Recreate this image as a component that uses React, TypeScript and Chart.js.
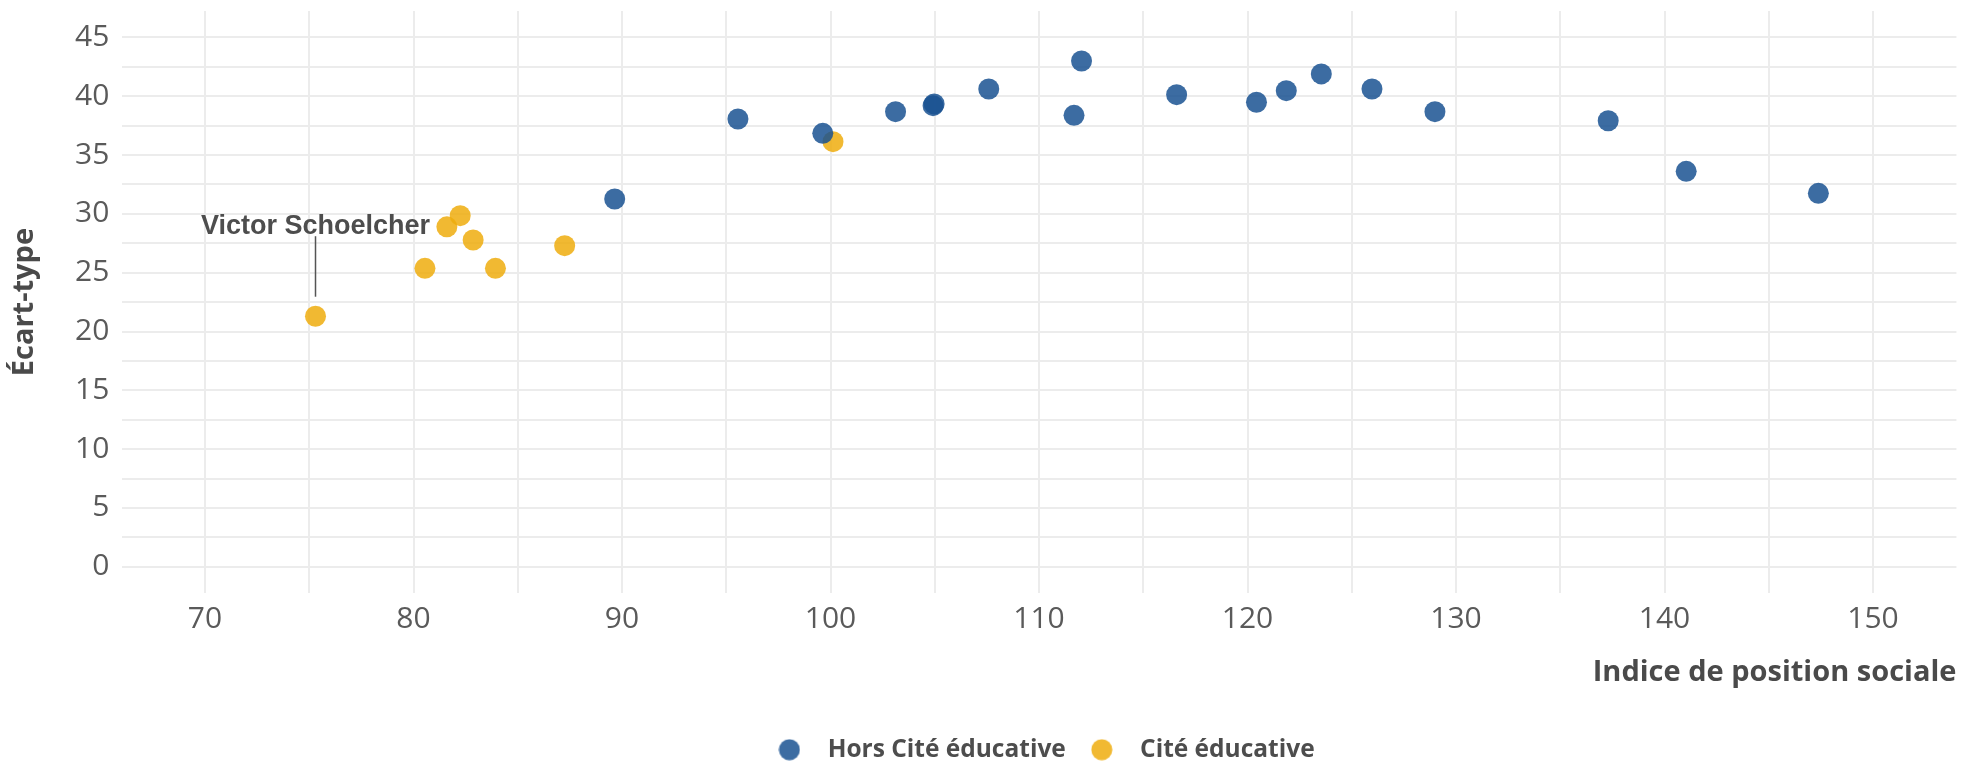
import React, { useEffect, useRef } from 'react';
import { Chart, registerables } from 'chart.js';

Chart.register(...registerables);

// ---- Data ----
const seriesNames = ['Hors Cité éducative', 'Cité éducative'];
const horsX = [89.65, 95.56, 99.63, 103.12, 104.92, 104.97, 107.59, 111.68, 112.04, 116.6, 120.43, 121.86, 123.54, 125.97, 128.99, 137.3, 141.04, 147.38];
const horsY = [31.27, 38.07, 36.85, 38.69, 39.2, 39.35, 40.62, 38.38, 43.0, 40.14, 39.49, 40.48, 41.9, 40.62, 38.69, 37.92, 33.62, 31.75];
const citeX = [75.3, 80.55, 81.6, 82.24, 82.86, 83.93, 87.25, 100.12];
const citeY = [21.3, 25.37, 28.9, 29.85, 27.78, 25.37, 27.3, 36.14];

const xGridValues = [70, 75, 80, 85, 90, 95, 100, 105, 110, 115, 120, 125, 130, 135, 140, 145, 150];
const xLabelValues = [70, 80, 90, 100, 110, 120, 130, 140, 150];
const yGridValues = [0, 2.5, 5, 7.5, 10, 12.5, 15, 17.5, 20, 22.5, 25, 27.5, 30, 32.5, 35, 37.5, 40, 42.5, 45];
const yLabelValues = [0, 5, 10, 15, 20, 25, 30, 35, 40, 45];
const xTitle = 'Indice de position sociale';
const yTitle = 'Écart-type';

const annotationText = 'Victor Schoelcher';
const annotationSeries = 1;
const annotationPoint = 0;

// ---- Styles ----
const blue = 'rgba(26, 82, 146, 0.85)';
const yellow = 'rgba(238, 173, 14, 0.85)';
const seriesColors = [blue, yellow];
const gridColor = '#ececec';

function makeDot(color: string): HTMLCanvasElement {
  const c = document.createElement('canvas');
  c.width = 22;
  c.height = 22;
  const g = c.getContext('2d')!;
  g.fillStyle = color;
  g.beginPath();
  g.arc(11, 11, 10.5, 0, Math.PI * 2);
  g.fill();
  return c;
}

const annotationPlugin = {
  id: 'pointAnnotation',
  afterDatasetsDraw(chart: any) {
    const meta = chart.getDatasetMeta(annotationSeries);
    const el = meta && meta.data[annotationPoint];
    if (!el) return;
    const { x, y } = el.getProps(['x', 'y'], true);
    const ctx = chart.ctx as CanvasRenderingContext2D;
    ctx.save();
    ctx.strokeStyle = '#555555';
    ctx.lineWidth = 1.5;
    ctx.beginPath();
    ctx.moveTo(x, y - 19.5);
    ctx.lineTo(x, y - 80);
    ctx.stroke();
    ctx.font = 'bold 27px "Liberation Sans", Arial, sans-serif';
    ctx.fillStyle = '#4d4d4d';
    ctx.textAlign = 'center';
    ctx.textBaseline = 'alphabetic';
    ctx.fillText(annotationText, x, y - 82);
    ctx.restore();
  },
};

export default function App() {
  const ref = useRef<HTMLCanvasElement>(null);

  useEffect(() => {
    if (!ref.current) return;
    const dots = seriesColors.map(makeDot);
    const chart = new Chart(ref.current, {
      type: 'scatter',
      data: {
        datasets: [
          {
            label: seriesNames[0],
            data: horsX.map((x, i) => ({ x, y: horsY[i] })),
            backgroundColor: blue,
            borderWidth: 0,
            pointRadius: 10.5,
            pointHoverRadius: 10.5,
          },
          {
            label: seriesNames[1],
            data: citeX.map((x, i) => ({ x, y: citeY[i] })),
            backgroundColor: yellow,
            borderWidth: 0,
            pointRadius: 10.5,
            pointHoverRadius: 10.5,
          },
        ],
      },
      options: {
        animation: false,
        responsive: true,
        maintainAspectRatio: false,
        layout: { autoPadding: false, padding: { top: 11, right: 5.6, left: 0, bottom: 0 } },
        plugins: {
          tooltip: { enabled: false },
          legend: {
            position: 'bottom',
            fullSize: false,
            labels: {
              usePointStyle: true,
              pointStyleWidth: 52,
              padding: 10,
              color: '#4d4d4d',
              font: { family: '"Open Sans", sans-serif', size: 24.5, weight: 'bold' },
              generateLabels: (c: any) => {
                const items = (Chart as any).defaults.plugins.legend.labels.generateLabels(c);
                return items.map((it: any, i: number) => ({ ...it, pointStyle: dots[i] }));
              },
            },
          },
        },
        scales: {
          x: {
            type: 'linear',
            min: 66,
            max: 154,
            border: { display: false },
            grid: { color: gridColor, lineWidth: 2, drawTicks: false },
            afterBuildTicks: (axis: any) => {
              axis.ticks = xGridValues.map((v) => ({ value: v }));
            },
            afterFit: (axis: any) => {
              axis.height = 134.3;
              axis.paddingLeft = 0;
              axis.paddingRight = 0;
            },
            ticks: {
              autoSkip: false,
              maxRotation: 0,
              padding: 8,
              color: '#5a5a5a',
              font: { family: '"Open Sans", sans-serif', size: 30 },
              callback: (v: any) => (xLabelValues.includes(Number(v)) ? String(v) : ''),
            },
            title: {
              display: true,
              text: xTitle,
              align: 'end',
              color: '#4a4a4a',
              font: { family: '"Open Sans", sans-serif', size: 29, weight: 'bold' },
              padding: { top: 0, bottom: 37.5 },
            },
          },
          y: {
            type: 'linear',
            min: -2.25,
            max: 47.25,
            border: { display: false },
            grid: { color: gridColor, lineWidth: 2, drawTicks: false },
            afterBuildTicks: (axis: any) => {
              axis.ticks = yGridValues.map((v) => ({ value: v }));
            },
            afterFit: (axis: any) => {
              axis.width = 121.6;
              axis.paddingTop = 0;
              axis.paddingBottom = 0;
            },
            ticks: {
              autoSkip: false,
              padding: 12.3,
              color: '#5a5a5a',
              font: { family: '"Open Sans", sans-serif', size: 30 },
              callback: (v: any) => (yLabelValues.includes(Number(v)) ? String(v) : ''),
            },
            title: {
              display: true,
              text: yTitle,
              color: '#4a4a4a',
              font: { family: '"Open Sans", sans-serif', size: 29, weight: 'bold' },
              padding: { top: 7.4, bottom: 0 },
            },
          },
        },
      } as any,
      plugins: [annotationPlugin],
    });
    return () => chart.destroy();
  }, []);

  return (
    <div style={{ position: 'absolute', left: 0, top: 0, width: 1962, height: 762, overflow: 'hidden', background: '#ffffff' }}>
      <div style={{ position: 'relative', width: 1962, height: 772 }}>
        <canvas ref={ref} />
      </div>
    </div>
  );
}
